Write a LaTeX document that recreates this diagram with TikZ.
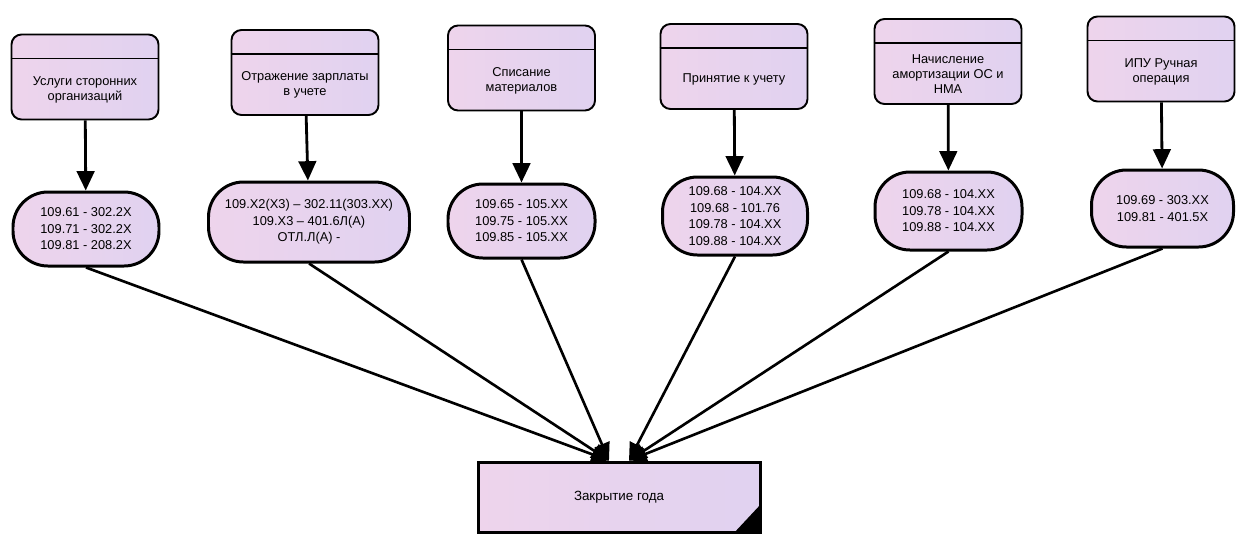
\documentclass[tikz,border=0pt]{standalone}
\usepackage{fontspec}
\setmainfont{Liberation Sans}
\usetikzlibrary{arrows.meta,positioning}
\definecolor{pastelpink}{RGB}{238,212,236}
\definecolor{pastelmint}{RGB}{216,238,222}
\definecolor{pastellilac}{RGB}{224,210,240}
\tikzset{
    pastelfill/.style = {left color=pastelpink, middle color=pastelmint, right color=pastellilac},
    opbox/.style = {draw, line width=1.1pt, rounded corners=0.2cm, minimum width=2.94cm, minimum height=1.7cm, pastelfill},
    boxtext/.style = {align=center, inner sep=0pt, font=\fontsize{7.3}{8.6}\selectfont},
    accbox/.style = {draw, line width=1.7pt, rounded corners=0.7cm, minimum width=2.86cm, minimum height=1.48cm, align=center, inner sep=1pt, font=\fontsize{7.3}{9.4}\selectfont, pastelfill},
    closebox/.style = {draw, line width=1.7pt, minimum width=5.64cm, minimum height=1.4cm, font=\fontsize{7.6}{9}\selectfont, pastelfill},
    flowarrow/.style = {line width=1.6pt, -{Triangle[length=11pt, width=10pt]}},
    sumline/.style = {line width=1.5pt, -{Triangle[length=10pt, width=9pt]}}
}
\begin{document}
\begin{tikzpicture}
    \useasboundingbox (0, 0) rectangle (24.74, -10.7);
    % operations
    \node[opbox] (b1) at (1.7, -1.54) {};
    \node[opbox] (b2) at (6.1, -1.45) {};
    \node[opbox] (b3) at (10.43, -1.36) {};
    \node[opbox] (b4) at (14.68, -1.33) {};
    \node[opbox] (b5) at (18.96, -1.23) {};
    \node[opbox] (b6) at (23.22, -1.18) {};
    \draw[line width=1pt] ([yshift=-0.5cm]b1.north west) -- ([yshift=-0.5cm]b1.north east);
    \draw[line width=1pt] ([yshift=-0.5cm]b2.north west) -- ([yshift=-0.5cm]b2.north east);
    \draw[line width=1pt] ([yshift=-0.5cm]b3.north west) -- ([yshift=-0.5cm]b3.north east);
    \draw[line width=1pt] ([yshift=-0.5cm]b4.north west) -- ([yshift=-0.5cm]b4.north east);
    \draw[line width=1pt] ([yshift=-0.5cm]b5.north west) -- ([yshift=-0.5cm]b5.north east);
    \draw[line width=1pt] ([yshift=-0.5cm]b6.north west) -- ([yshift=-0.5cm]b6.north east);
    \node[boxtext] (t1) at ([yshift=-0.25cm]b1.center) {Услуги сторонних\\организаций};
    \node[boxtext] (t2) at ([yshift=-0.25cm]b2.center) {Отражение зарплаты\\в учете};
    \node[boxtext] (t3) at ([yshift=-0.25cm]b3.center) {Списание\\материалов};
    \node[boxtext] (t4) at ([yshift=-0.25cm]b4.center) {Принятие к учету};
    \node[boxtext] (t5) at ([yshift=-0.25cm]b5.center) {Начисление\\амортизации ОС и\\НМА};
    \node[boxtext] (t6) at ([yshift=-0.25cm]b6.center) {ИПУ Ручная\\операция};
    % entries
    \node[accbox, minimum width=2.92cm, minimum height=1.48cm] (e1) at (1.72, -4.58) {109.61 - 302.2X\\109.71 - 302.2X\\109.81 - 208.2X};
    \node[accbox, minimum width=4.02cm, minimum height=1.6cm] (e2) at (6.18, -4.44) {109.X2(X3) -- 302.11(303.XX)\\109.X3 -- 401.6Л(А)\\ОТЛ.Л(А) -};
    \node[accbox, minimum width=2.94cm] (e3) at (10.43, -4.42) {109.65 - 105.XX\\109.75 - 105.XX\\109.85 - 105.XX};
    \node[accbox, minimum width=2.9cm, minimum height=1.56cm] (e4) at (14.7, -4.32) {109.68 - 104.XX\\109.68 - 101.76\\109.78 - 104.XX\\109.88 - 104.XX};
    \node[accbox, minimum width=2.94cm, minimum height=1.56cm] (e5) at (18.97, -4.22) {109.68 - 104.XX\\109.78 - 104.XX\\109.88 - 104.XX};
    \node[accbox, minimum width=2.84cm, minimum height=1.54cm] (e6) at (23.25, -4.17) {109.69 - 303.XX\\109.81 - 401.5X};
    % year end
    \node[closebox] (close) at (12.38, -9.94) {Закрытие года};
    \fill ([xshift=-0.56cm]close.south east) -- (close.south east) -- ([yshift=0.6cm]close.south east) -- cycle;
    \coordinate (inL) at ([xshift=-0.2cm]close.north);
    \coordinate (inR) at ([xshift=0.2cm]close.north);
    \draw[flowarrow] (b1) -- (e1);
    \draw[flowarrow] (b2) -- (e2);
    \draw[flowarrow] (b3) -- (e3);
    \draw[flowarrow] (b4) -- (e4);
    \draw[flowarrow] (b5) -- (e5);
    \draw[flowarrow] (b6) -- (e6);
    \draw[sumline] (e1.south) -- (inL);
    \draw[sumline] (e2.south) -- (inL);
    \draw[sumline] (e3.south) -- (inL);
    \draw[sumline] (e4.south) -- (inR);
    \draw[sumline] (e5.south) -- (inR);
    \draw[sumline] (e6.south) -- (inR);
\end{tikzpicture}
\end{document}
